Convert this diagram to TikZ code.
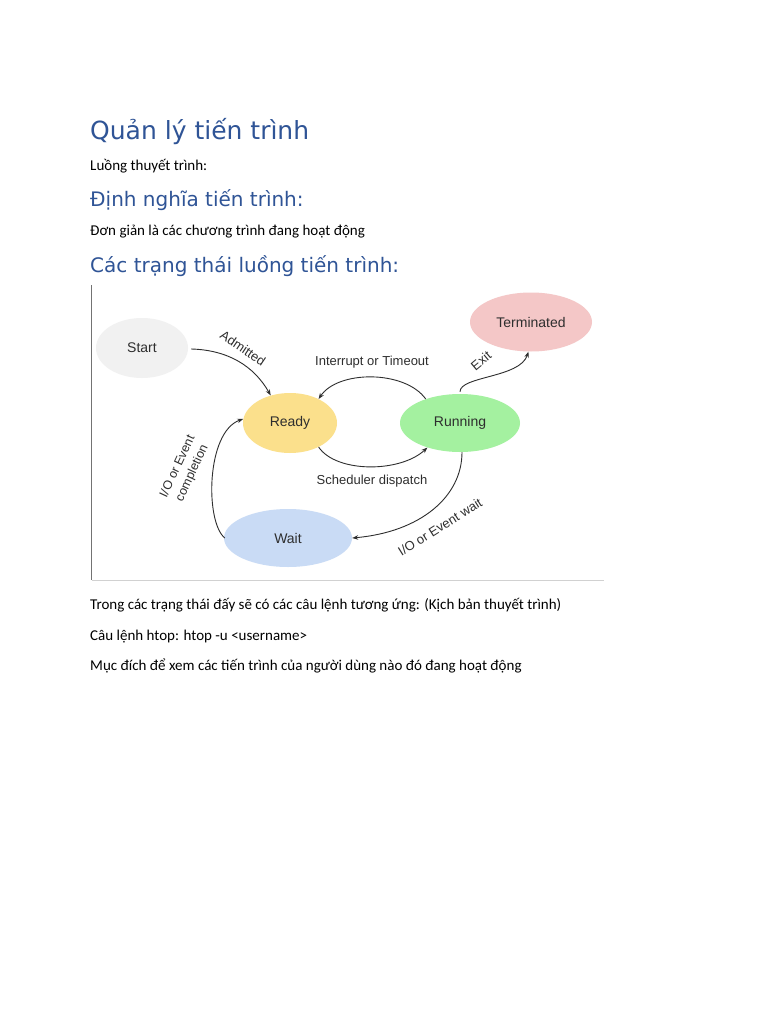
\documentclass[tikz,border=0pt]{standalone}
\usepackage{fontspec}
\setmainfont{Carlito}
\newfontfamily\headfont{DejaVu Sans}
\newfontfamily\diafont{Liberation Sans}
\usetikzlibrary{shapes.geometric,arrows.meta}
\definecolor{headblue}{HTML}{2F5496}
\definecolor{startc}{HTML}{F1F1F1}
\definecolor{termc}{HTML}{F4C7C7}
\definecolor{readyc}{HTML}{FBE08C}
\definecolor{runc}{HTML}{A4F1A0}
\definecolor{waitc}{HTML}{C9DBF5}
\definecolor{inkc}{HTML}{2E2E2E}
\tikzset{
  head1/.style={anchor=base west, inner sep=0pt, text=headblue, font=\headfont\fontsize{25}{30}\selectfont},
  head2/.style={anchor=base west, inner sep=0pt, text=headblue, font=\headfont\fontsize{20}{24}\selectfont},
  body/.style={anchor=base west, inner sep=0pt, text=black, font=\fontsize{15}{18}\selectfont},
  state/.style={ellipse, draw=none, inner sep=0pt, text=inkc, font=\diafont\fontsize{14}{16}\selectfont},
  elabel/.style={inner sep=0pt, text=inkc, font=\diafont\fontsize{13}{15}\selectfont},
  conn/.style={draw=inkc, line width=0.9pt, -{Stealth[length=6pt,width=4.5pt]}},
}
\begin{document}
\begin{tikzpicture}[x=1pt,y=-1pt]
\useasboundingbox[fill=white] (0,0) rectangle (768,1024);

% texts
\node[head1] (t1) at (90,140) {Quản lý tiến trình};
\node[body] (b1) at (90,170.5) {Luồng thuyết trình:};
\node[head2] (t2) at (90,207) {Định nghĩa tiến trình:};
\node[body] (b2) at (90,236) {Đơn giản là các chương trình đang hoạt động};
\node[head2] (t3) at (90,272) {Các trạng thái luồng tiến trình:};
\node[body] (b3) at (90,609) {Trong các trạng thái đấy sẽ có các câu lệnh tương ứng: (Kịch bản thuyết trình)};
\node[body] (b4) at (90,640) {Câu lệnh htop: htop -u <username>};
\node[body] (b5) at (90,670) {Mục đích để xem các tiến trình của người dùng nào đó đang hoạt động};

% image frame
\coordinate (f1) at (91.5,285);
\coordinate (f2) at (91.5,580);
\coordinate (f3) at (604,580);
\draw[draw=black!55, line width=1.4pt] (f1) -- (f2);
\draw[draw=black!18, line width=1pt] (f2) -- (f3);

% states
\node[state, fill=startc, minimum width=92pt, minimum height=60pt] (start) at (142,348) {Start};
\node[state, fill=termc, minimum width=122pt, minimum height=59pt] (term) at (531,322) {Terminated};
\node[state, fill=readyc, minimum width=94pt, minimum height=60pt] (ready) at (290,423) {Ready};
\node[state, fill=runc, minimum width=120pt, minimum height=58pt] (run) at (460,423) {Running};
\node[state, fill=waitc, minimum width=128pt, minimum height=58pt] (wait) at (288,538) {Wait};

% connectors
\draw[conn] (start.east) ++(3,1) .. controls (228,350) and (254,366) .. (ready.125);
\draw[conn] (run.145) .. controls (405,370) and (338,370) .. (ready.40);
\draw[conn] (ready.-40) .. controls (336,473) and (400,473) .. (run.-143);
\draw[conn] (run.-90) ++(2,0) .. controls (462,497) and (420,532) .. (wait.east);
\draw[conn] (wait.west) ++(1,0) .. controls (205,522) and (206,432) .. (ready.175);
\draw[conn] (run.90) ++(0,-2) .. controls (460,376) and (520,378) .. (term.-95);

% labels
\node[elabel, rotate=-34] (lad) at (243,348) {Admitted};
\node[elabel] (lint) at (372,362) {Interrupt or Timeout};
\node[elabel] (lsch) at (372,481) {Scheduler dispatch};
\node[elabel, rotate=32] (lwait) at (440,527) {I/O or Event wait};
\node[elabel, rotate=65, align=center, font=\diafont\fontsize{12.5}{16}\selectfont] (lcomp) at (185,470) {I/O or Event\\completion};
\node[elabel, rotate=40] (lexit) at (481,361) {Exit};
\end{tikzpicture}
\end{document}
